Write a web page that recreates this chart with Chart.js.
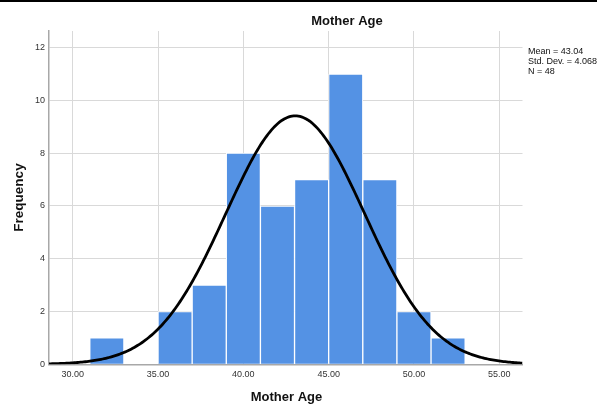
<!DOCTYPE html>
<html><head><meta charset="utf-8">
<script src="https://cdn.jsdelivr.net/npm/chart.js@4"></script>
<style>html,body{margin:0;padding:0;background:#fff;}canvas{display:block;}</style>
</head><body>
<canvas id="c" width="597" height="405"></canvas>
<script>
// Histogram data (bin width 2)
const binCenters = [32, 34, 36, 38, 40, 42, 44, 46, 48, 50, 52];
const frequencies = [1, 0, 2, 3, 8, 6, 7, 11, 7, 2, 1];
const xTickValues = [30, 35, 40, 45, 50, 55];
const yTickValues = [0, 2, 4, 6, 8, 10, 12];
const statLines = ['Mean = 43.04', 'Std. Dev. = 4.068', 'N = 48'];
const chartTitle = 'Mother Age';
const xTitle = 'Mother Age';
const yTitle = 'Frequency';
// Parameters of the fitted normal curve, as printed in the reference
const meanAge = 43.04;
const sdAge = 4.068;
const nCases = 48;
const binWidth = 2;

const xMin = 28.61, xMax = 56.36;

// Fitted normal curve sampled along the x axis (expected counts per bin)
const curvePoints = [];
for (let i = 0; i <= 300; i++) {
  const x = xMin + (xMax - xMin) * i / 300;
  const z = (x - meanAge) / sdAge;
  const y = nCases * binWidth * Math.exp(-0.5 * z * z) / (sdAge * Math.sqrt(2 * Math.PI));
  curvePoints.push({x: x, y: y});
}

const FONT = '"Liberation Sans", Arial, sans-serif';

const textPlugin = {
  id: 'texts',
  afterDraw(chart) {
    const ctx = chart.ctx;
    ctx.save();
    // top black rule
    ctx.fillStyle = '#000';
    ctx.fillRect(0, 0, 597, 2);
    // chart title
    ctx.fillStyle = '#111';
    ctx.font = 'bold 13px ' + FONT;
    ctx.textAlign = 'center';
    ctx.textBaseline = 'alphabetic';
    ctx.fillText(chartTitle, 347, 24.5);
    // x title
    ctx.fillText(xTitle, 286.5, 401);
    // y title
    ctx.save();
    ctx.translate(23, 197.5);
    ctx.rotate(-Math.PI / 2);
    ctx.font = 'bold 13.5px ' + FONT;
    ctx.fillText(yTitle, 0, 0);
    ctx.restore();
    // stats
    ctx.font = '9px ' + FONT;
    ctx.textAlign = 'left';
    ctx.textBaseline = 'middle';
    ctx.fillStyle = '#111';
    statLines.forEach((t, i) => ctx.fillText(t, 528, 52 + i * 10));
    ctx.restore();
  }
};

new Chart(document.getElementById('c'), {
  type: 'bar',
  data: {
    datasets: [
      {
        type: 'line',
        data: curvePoints,
        borderColor: '#000',
        borderWidth: 2.8,
        pointRadius: 0,
        tension: 0,
        fill: false,
        order: 0
      },
      {
        type: 'bar',
        data: binCenters.map((x, i) => ({x: x, y: frequencies[i]})),
        backgroundColor: 'rgb(84,146,228)',
        borderColor: '#ffffff',
        borderWidth: 1,
        barPercentage: 1,
        categoryPercentage: 1,
        order: 1
      }
    ]
  },
  plugins: [textPlugin],
  options: {
    responsive: false,
    animation: false,
    devicePixelRatio: 1,
    layout: {padding: {top: 31, right: 74.5, left: 0, bottom: 0}},
    plugins: {legend: {display: false}, tooltip: {enabled: false}, title: {display: false}},
    scales: {
      x: {
        type: 'linear',
        min: xMin,
        max: xMax,
        offset: false,
        afterBuildTicks: s => { s.ticks = xTickValues.map(v => ({value: v})); },
        afterFit: s => { s.height = 40.7; },
        grid: {color: '#d9d9d9', lineWidth: 1, drawTicks: false, offset: false},
        border: {display: true, color: '#a8a8a8', width: 1.5},
        ticks: {
          padding: 5,
          color: '#333',
          font: {family: FONT, size: 9},
          maxRotation: 0,
          autoSkip: false,
          callback: v => Number(v).toFixed(2)
        }
      },
      y: {
        min: 0,
        max: 12.63,
        afterBuildTicks: s => { s.ticks = yTickValues.map(v => ({value: v})); },
        afterFit: s => { s.width = 49; },
        grid: {color: '#d9d9d9', lineWidth: 1, drawTicks: false},
        border: {display: true, color: '#a8a8a8', width: 1.5},
        ticks: {
          padding: 4,
          color: '#333',
          font: {family: FONT, size: 9},
          autoSkip: false,
          callback: v => String(v)
        }
      }
    }
  }
});
</script>
</body></html>
